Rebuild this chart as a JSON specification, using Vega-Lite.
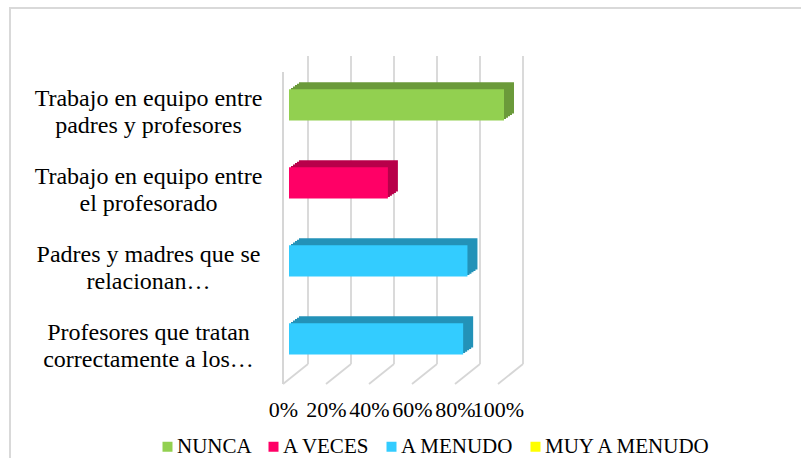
{
  "$schema": "https://vega.github.io/schema/vega-lite/v6.json",
  "width": 215,
  "height": 328,
  "autosize": {"type": "none"},
  "padding": {"left": 283, "top": 56, "right": 303, "bottom": 74},
  "background": "white",
  "config": {"view": {"stroke": null}, "font": "Liberation Serif"},
  "datasets": {
    "barras": [
      {"Cat": "Trabajo en equipo entre|padres y profesores", "Serie": "NUNCA", "v": 1.0},
      {"Cat": "Trabajo en equipo entre|el  profesorado", "Serie": "A VECES", "v": 0.46},
      {"Cat": "Padres y madres que se|relacionan…", "Serie": "A MENUDO", "v": 0.83},
      {"Cat": "Profesores que tratan|correctamente a los…", "Serie": "A MENUDO", "v": 0.81}
    ],
    "marcas": [{"t": 0}, {"t": 0.2}, {"t": 0.4}, {"t": 0.6}, {"t": 0.8}, {"t": 1}]
  },
  "layer": [
    {
      "data": {"name": "marcas"},
      "layer": [
        {
          "mark": {"type": "rect", "fill": "transparent", "stroke": "#D9D9D9", "strokeWidth": 1.5},
          "encoding": {
            "x": {"datum": -1.27, "type": "quantitative", "scale": {"domain": [0, 1], "nice": false}, "title": null},
            "x2": {"datum": 2.5},
            "y": {"datum": 114.6, "type": "quantitative", "scale": {"domain": [0, 100], "nice": false}, "axis": null},
            "y2": {"datum": -40}
          }
        },
        {
          "mark": {"type": "rule", "color": "#D6D6D6", "strokeWidth": 1.8, "xOffset": 25},
          "encoding": {
            "x": {"field": "t", "type": "quantitative", "title": null},
            "y": {"datum": 6.1, "type": "quantitative", "axis": null},
            "y2": {"datum": 100}
          }
        },
        {
          "mark": {"type": "rule", "color": "#D6D6D6", "strokeWidth": 1.8, "xOffset": 25, "x2Offset": 0},
          "encoding": {
            "x": {"field": "t", "type": "quantitative", "title": null},
            "x2": {"field": "t"},
            "y": {"datum": 6.1, "type": "quantitative", "axis": null},
            "y2": {"datum": 0}
          }
        },
        {
          "mark": {"type": "rule", "color": "#D6D6D6", "strokeWidth": 1.8},
          "encoding": {
            "x": {"datum": 0, "type": "quantitative", "title": null},
            "y": {"datum": 0, "type": "quantitative", "axis": null},
            "y2": {"datum": 95.1}
          }
        }
      ]
    },
    {
      "data": {"name": "barras"},
      "encoding": {
        "y": {
          "field": "Cat", "type": "nominal", "sort": null,
          "scale": {"paddingInner": 0.6, "paddingOuter": 0.4026, "align": 0.53},
          "axis": {
            "title": null, "domain": false, "ticks": false, "grid": false,
            "labelExpr": "split(datum.label, '|')",
            "labelFont": "Liberation Serif", "labelFontSize": 24, "labelColor": "#000000",
            "labelAlign": "center", "labelBaseline": "middle", "labelPadding": 135,
            "labelLineHeight": 27, "labelOffset": -6, "labelLimit": 0
          }
        },
        "x": {
          "field": "v", "type": "quantitative",
          "axis": {
            "title": null, "domain": false, "ticks": false, "grid": false,
            "values": [0, 0.2, 0.4, 0.6, 0.8, 1], "format": ".0%",
            "labelFont": "Liberation Serif", "labelFontSize": 22, "labelColor": "#000000",
            "labelPadding": 15, "labelFlush": false, "labelOverlap": false
          }
        }
      },
      "layer": [
        {
          "mark": {"type": "bar", "xOffset": 8, "x2Offset": 8, "yOffset": -1.4, "y2Offset": -1.4},
          "encoding": {"fill": {"field": "Serie", "scale": {"domain": ["NUNCA", "A VECES", "A MENUDO"], "range": ["#6B9A3A", "#B8004A", "#2392B8"]}, "legend": null}}
        },
        {
          "mark": {"type": "bar", "xOffset": 10, "x2Offset": 10, "yOffset": -2.8, "y2Offset": -2.8},
          "encoding": {"fill": {"field": "Serie", "legend": null}}
        },
        {
          "mark": {"type": "bar", "xOffset": 12, "x2Offset": 12, "yOffset": -4.2, "y2Offset": -4.2},
          "encoding": {"fill": {"field": "Serie", "legend": null}}
        },
        {
          "mark": {"type": "bar", "xOffset": 14, "x2Offset": 14, "yOffset": -5.6, "y2Offset": -5.6},
          "encoding": {"fill": {"field": "Serie", "legend": null}}
        },
        {
          "mark": {"type": "bar", "xOffset": 16, "x2Offset": 16, "yOffset": -7, "y2Offset": -7},
          "encoding": {"fill": {"field": "Serie", "legend": null}}
        },
        {
          "mark": {"type": "bar", "xOffset": 6, "x2Offset": 6},
          "encoding": {
            "color": {
              "field": "Serie", "type": "nominal",
              "scale": {"domain": ["NUNCA", "A VECES", "A MENUDO", "MUY A MENUDO"], "range": ["#92D050", "#FF0066", "#33CCFF", "#FFFF00"]},
              "legend": {
                "title": null, "orient": "none", "legendX": -126, "legendY": 380,
                "direction": "horizontal", "symbolType": "square", "symbolSize": 100,
                "symbolStrokeWidth": 0, "labelFont": "Liberation Serif", "labelFontSize": 21,
                "labelColor": "#000000", "labelOffset": -1, "columnPadding": 11, "labelLimit": 0
              }
            }
          }
        }
      ]
    }
  ],
  "resolve": {"scale": {"y": "independent"}, "axis": {"y": "independent"}}
}
